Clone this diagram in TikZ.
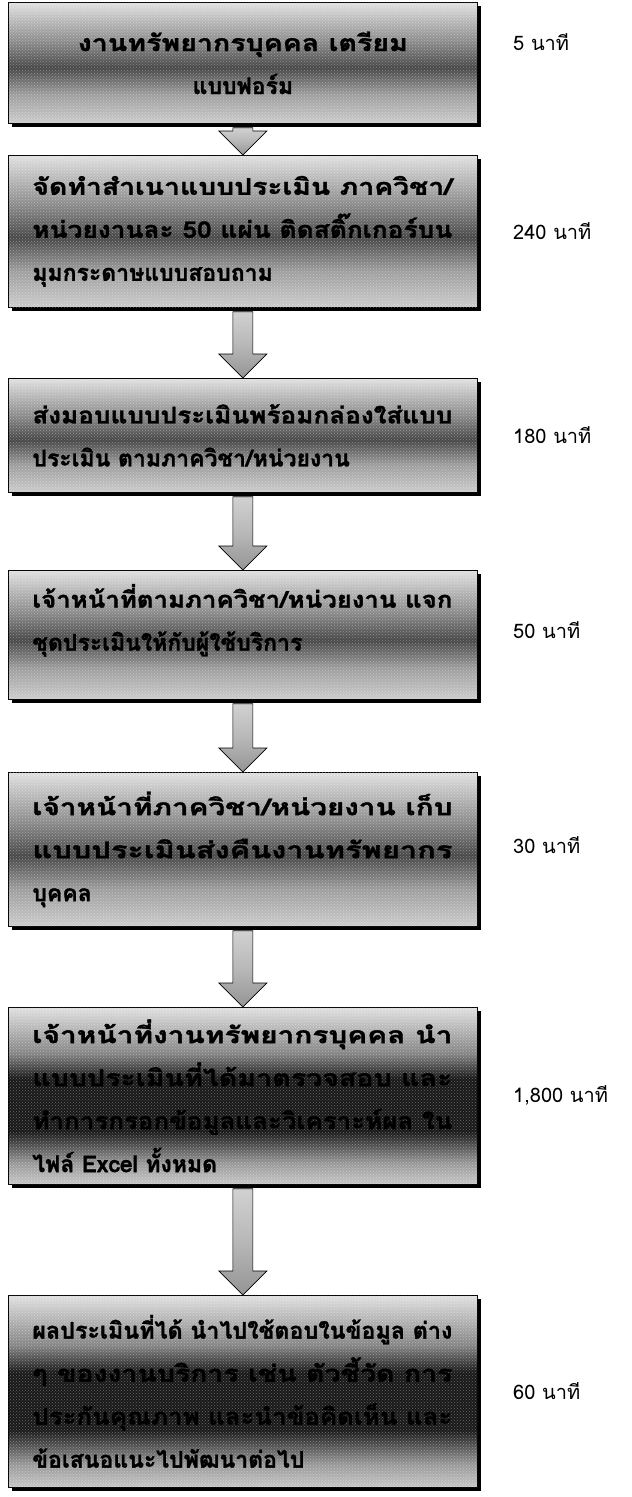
\documentclass[tikz,border=0pt]{standalone}
\usepackage{fontspec}
\newfontfamily\thaifont[Script=Thai, BoldFeatures={FakeBold=1.3}]{Loma}
\usetikzlibrary{calc,shadows,patterns}
% vertical shadings: visible range 25bp (bottom) .. 75bp (top)
\pgfdeclareverticalshading{shadeA}{100bp}{color(0bp)=(black!20); color(25bp)=(black!20); color(37bp)=(black!38); color(48bp)=(black!72); color(59bp)=(black!45); color(75bp)=(black!12); color(100bp)=(black!12)}
\pgfdeclareverticalshading{shadeB}{100bp}{color(0bp)=(black!22); color(25bp)=(black!22); color(31bp)=(black!40); color(40bp)=(black!90); color(55bp)=(black!90); color(62bp)=(black!48); color(75bp)=(black!12); color(100bp)=(black!12)}
\pgfdeclareverticalshading{arrshade}{100bp}{color(0bp)=(black!42); color(25bp)=(black!42); color(50bp)=(black!28); color(75bp)=(black!18); color(100bp)=(black!18)}
\newcommand{\jl}[1]{\resizebox{420pt}{\height}{#1}}
\tikzset{
  stepbox/.style={draw=black, line width=0.7pt, shading=shadeA, anchor=north west,
    minimum width=469pt, text width=421pt, inner xsep=24pt, inner ysep=0pt,
    align=left, font=\thaifont\bfseries\fontsize{23}{43}\selectfont,
    drop shadow={shadow xshift=4pt, shadow yshift=-4pt, fill=black, opacity=1},
    postaction={pattern=crosshatch dots, pattern color=white, opacity=0.35}},
  darkbox/.style={shading=shadeB},
  timelabel/.style={anchor=west, font=\thaifont\fontsize{20}{24}\selectfont, inner sep=0pt},
  arrowstyle/.style={draw=black, line width=0.7pt, shading=arrshade}
}
\newcommand{\blockarr}[2]{%
  \path[arrowstyle] ($(#1.south)+(-10,4)$) -- ($(#2.north)+(-10,-24)$) -- ($(#2.north)+(-24,-24)$) -- (#2.north) -- ($(#2.north)+(24,-24)$) -- ($(#2.north)+(10,-24)$) -- ($(#1.south)+(10,4)$) -- cycle;}
\begin{document}
\begin{tikzpicture}[x=1pt,y=-1pt]
\useasboundingbox[fill=white] (0,0) rectangle (632,1497);
\node[stepbox, align=center, minimum height=121pt] (b1) at (8,2) {\resizebox{330pt}{\height}{งานทรัพยากรบุคคล เตรียม}\\แบบฟอร์ม};
\node[stepbox, minimum height=152pt] (b2) at (8,155) {\jl{จัดทำสำเนาแบบประเมิน ภาควิชา/}\\\jl{หน่วยงานละ 50 แผ่น ติดสติ๊กเกอร์บน}\\มุมกระดาษแบบสอบถาม};
\node[stepbox, minimum height=114pt] (b3) at (8,378) {\jl{ส่งมอบแบบประเมินพร้อมกล่องใส่แบบ}\\ประเมิน ตามภาควิชา/หน่วยงาน};
\node[stepbox, minimum height=129pt] (b4) at (8,570) {\jl{เจ้าหน้าที่ตามภาควิชา/หน่วยงาน แจก}\\ชุดประเมินให้กับผู้ใช้บริการ\\[-8pt]\mbox{}};
\node[stepbox, minimum height=154pt] (b5) at (8,772) {\jl{เจ้าหน้าที่ภาควิชา/หน่วยงาน เก็บ}\\\jl{แบบประเมินส่งคืนงานทรัพยากร}\\บุคคล};
\node[stepbox, darkbox, minimum height=177pt] (b6) at (8,1007) {\jl{เจ้าหน้าที่งานทรัพยากรบุคคล นำ}\\\jl{แบบประเมินที่ได้มาตรวจสอบ และ}\\\jl{ทำการกรอกข้อมูลและวิเคราะห์ผล ใน}\\ไฟล์ Excel ทั้งหมด};
\node[stepbox, darkbox, minimum height=192pt] (b7) at (8,1295) {\jl{ผลประเมินที่ได้ นำไปใช้ตอบในข้อมูล ต่าง}\\\jl{ๆ ของงานบริการ เช่น ตัวชี้วัด การ}\\\jl{ประกันคุณภาพ และนำข้อคิดเห็น และ}\\ข้อเสนอแนะไปพัฒนาต่อไป};
\blockarr{b1}{b2}
\blockarr{b2}{b3}
\blockarr{b3}{b4}
\blockarr{b4}{b5}
\blockarr{b5}{b6}
\blockarr{b6}{b7}
\node[timelabel] (t1) at (513,42) {5 นาที};
\node[timelabel] (t2) at (513,231) {240 นาที};
\node[timelabel] (t3) at (513,435) {180 นาที};
\node[timelabel] (t4) at (513,630) {50 นาที};
\node[timelabel] (t5) at (513,845) {30 นาที};
\node[timelabel] (t6) at (513,1095) {1,800 นาที};
\node[timelabel] (t7) at (513,1391) {60 นาที};
\end{tikzpicture}
\end{document}
